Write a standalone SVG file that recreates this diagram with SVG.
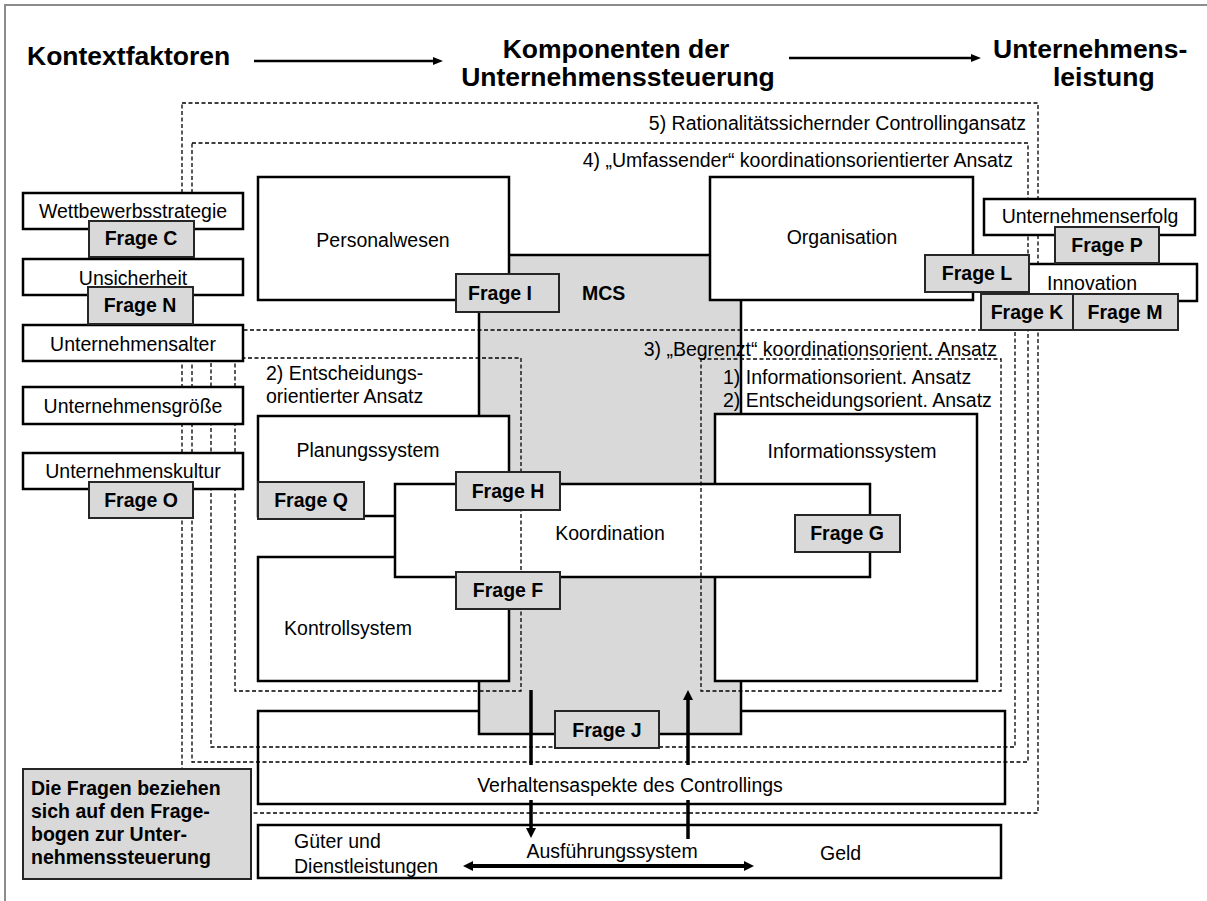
<svg xmlns="http://www.w3.org/2000/svg" width="1207" height="901" viewBox="0 0 1207 901">
<defs>
<style>
.t{font-family:"Liberation Sans",Arial,sans-serif;font-size:19.5px;fill:#000}
.h{font-family:"Liberation Sans",Arial,sans-serif;font-size:26.5px;font-weight:bold;fill:#000}
.b{font-weight:bold}
.c{text-anchor:middle}
.e{text-anchor:end}
.box{fill:#fff;stroke:#000;stroke-width:2.5}
.mcs{fill:#d9d9d9;stroke:#000;stroke-width:2.5}
.fq{fill:#d9d9d9;stroke:#262626;stroke-width:2}
.dash{fill:none;stroke:#000;stroke-width:1.3;stroke-dasharray:4 2.5}
.ln{fill:none;stroke:#000}
</style>
<marker id="ah" markerUnits="userSpaceOnUse" markerWidth="12" markerHeight="12" refX="2" refY="5" orient="auto-start-reverse"><path d="M0,0 L10,5 L0,10 z" fill="#000"/></marker>
<marker id="ahs" markerUnits="userSpaceOnUse" markerWidth="12" markerHeight="10" refX="2" refY="4" orient="auto-start-reverse"><path d="M0,0 L10,4 L0,8 z" fill="#000"/></marker>
</defs>
<rect x="0" y="0" width="1207" height="901" fill="#fff"/>
<path d="M5,901 V5 H1207" fill="none" stroke="#8c8c8c" stroke-width="2"/>

<g id="titles">
<text class="h" x="27" y="65">Kontextfaktoren</text>
<text class="h c" x="616" y="58">Komponenten der</text>
<text class="h c" x="618" y="86">Unternehmenssteuerung</text>
<text class="h" x="993" y="58">Unternehmens-</text>
<text class="h" x="1053" y="86">leistung</text>
</g>

<g id="verhaltensaspekte">
<rect class="box" x="258" y="711" width="747" height="93"/>
<text class="t c" x="630" y="792">Verhaltensaspekte des Controllings</text>
</g>

<g id="mcs">
<rect class="mcs" x="479" y="255" width="262" height="479"/>
<text class="t b" x="582" y="300">MCS</text>
</g>

<g id="personalwesen">
<rect class="box" x="258" y="177" width="251" height="123"/>
<text class="t c" x="383" y="247">Personalwesen</text>
</g>
<g id="organisation">
<rect class="box" x="710" y="177" width="263" height="123"/>
<text class="t c" x="842" y="244">Organisation</text>
</g>
<g id="planungssystem">
<rect class="box" x="258" y="416" width="251" height="100"/>
<text class="t c" x="368" y="457">Planungssystem</text>
</g>
<g id="kontrollsystem">
<rect class="box" x="258" y="557" width="251" height="124"/>
<text class="t c" x="348" y="635">Kontrollsystem</text>
</g>
<g id="informationssystem">
<rect class="box" x="715" y="414" width="262" height="267"/>
<text class="t c" x="852" y="458">Informationssystem</text>
</g>
<g id="koordination">
<rect class="box" x="395" y="484" width="475" height="93"/>
<text class="t c" x="610" y="540">Koordination</text>
</g>

<g id="ansaetze">
<rect class="dash" x="182" y="103" width="856" height="710"/>
<text class="t e" x="1026" y="130">5) Rationalitätssichernder Controllingansatz</text>
<rect class="dash" x="192" y="143" width="836" height="619"/>
<text class="t e" x="1013" y="167">4) „Umfassender“ koordinationsorientierter Ansatz</text>
<rect class="dash" x="211" y="330" width="804" height="417"/>
<text class="t e" x="997" y="356">3) „Begrenzt“ koordinationsorient. Ansatz</text>
<rect class="dash" x="235" y="358" width="286" height="333"/>
<text class="t" x="266" y="380">2) Entscheidungs-</text>
<text class="t" x="266" y="403">orientierter Ansatz</text>
<rect class="dash" x="701" y="359" width="300" height="332"/>
<text class="t" x="723" y="384">1) Informationsorient. Ansatz</text>
<text class="t" x="723" y="407">2) Entscheidungsorient. Ansatz</text>
</g>

<g id="ausfuehrungssystem">
<rect class="box" x="258" y="825" width="743" height="53"/>
<text class="t" x="294" y="848">Güter und</text>
<text class="t" x="294" y="873">Dienstleistungen</text>
<text class="t c" x="612" y="858">Ausführungssystem</text>
<text class="t" x="820" y="860">Geld</text>
</g>

<g id="kontextfaktoren">
<rect class="box" x="23" y="193" width="220" height="36"/>
<text class="t c" x="133" y="218">Wettbewerbsstrategie</text>
<rect class="box" x="23" y="259" width="220" height="36"/>
<text class="t c" x="133" y="285">Unsicherheit</text>
<rect class="box" x="23" y="325" width="220" height="36"/>
<text class="t c" x="133" y="351">Unternehmensalter</text>
<rect class="box" x="23" y="387" width="220" height="37"/>
<text class="t c" x="133" y="413">Unternehmensgröße</text>
<rect class="box" x="23" y="453" width="220" height="36"/>
<text class="t c" x="133" y="478">Unternehmenskultur</text>
</g>

<g id="leistung">
<rect class="box" x="984" y="199" width="211" height="36"/>
<text class="t c" x="1090" y="223">Unternehmenserfolg</text>
<rect class="box" x="1028" y="264" width="169" height="37"/>
<text class="t c" x="1092" y="290">Innovation</text>
</g>

<g id="hinweis">
<rect class="fq" x="23" y="769" width="228" height="110"/>
<text class="t b" x="31" y="795">Die Fragen beziehen</text>
<text class="t b" x="31" y="818">sich auf den Frage-</text>
<text class="t b" x="31" y="841">bogen zur Unter-</text>
<text class="t b" x="31" y="864">nehmenssteuerung</text>
</g>

<g id="fragen">
<g id="frage-c"><rect class="fq" x="89" y="221" width="105" height="36"/><text class="t b c" x="141" y="245">Frage C</text></g>
<g id="frage-n"><rect class="fq" x="88" y="287" width="105" height="37"/><text class="t b c" x="140" y="312">Frage N</text></g>
<g id="frage-o"><rect class="fq" x="89" y="482" width="104" height="36"/><text class="t b c" x="141" y="507">Frage O</text></g>
<g id="frage-i"><rect class="fq" x="456" y="274" width="103" height="38"/><text class="t b c" x="500" y="300">Frage I</text></g>
<g id="frage-p"><rect class="fq" x="1055" y="227" width="104" height="36"/><text class="t b c" x="1107" y="252">Frage P</text></g>
<g id="frage-l"><rect class="fq" x="925" y="255" width="104" height="37"/><text class="t b c" x="977" y="280">Frage L</text></g>
<g id="frage-k"><rect class="fq" x="981" y="294" width="104" height="36"/><text class="t b c" x="1027" y="319">Frage K</text></g>
<g id="frage-m"><rect class="fq" x="1073" y="294" width="105" height="36"/><text class="t b c" x="1125" y="319">Frage M</text></g>
<g id="frage-q"><rect class="fq" x="258" y="482" width="106" height="37"/><text class="t b c" x="311" y="507">Frage Q</text></g>
<g id="frage-h"><rect class="fq" x="456" y="472" width="104" height="38"/><text class="t b c" x="508" y="498">Frage H</text></g>
<g id="frage-f"><rect class="fq" x="456" y="572" width="104" height="37"/><text class="t b c" x="508" y="597">Frage F</text></g>
<g id="frage-g"><rect class="fq" x="795" y="515" width="105" height="37"/><text class="t b c" x="847" y="540">Frage G</text></g>
<g id="frage-j"><rect class="fq" x="555" y="711" width="104" height="37"/><text class="t b c" x="607" y="737">Frage J</text></g>
</g>

<g id="connectors">
<line class="ln" x1="254" y1="61" x2="435" y2="61" stroke-width="2.5" marker-end="url(#ahs)"/>
<line class="ln" x1="789" y1="58" x2="973" y2="58" stroke-width="2.5" marker-end="url(#ahs)"/>
<line class="ln" x1="531" y1="690" x2="531" y2="765" stroke-width="3.5"/>
<line class="ln" x1="531" y1="800" x2="531" y2="830" stroke-width="3.5" marker-end="url(#ah)"/>
<line class="ln" x1="688" y1="839" x2="688" y2="800" stroke-width="3.5"/>
<line class="ln" x1="688" y1="765" x2="688" y2="698" stroke-width="3.5" marker-end="url(#ah)"/>
<line class="ln" x1="471" y1="866" x2="746" y2="866" stroke-width="4" marker-start="url(#ah)" marker-end="url(#ah)"/>
</g>
</svg>
